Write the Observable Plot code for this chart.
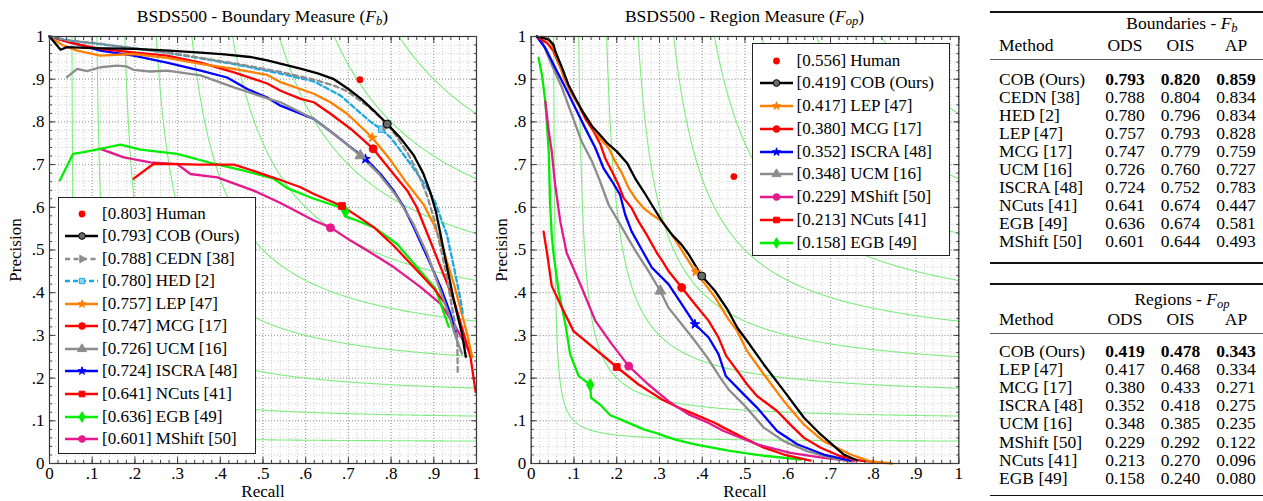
<!DOCTYPE html>
<html><head><meta charset="utf-8">
<script src="https://cdn.jsdelivr.net/npm/d3@7"></script>
<script src="https://cdn.jsdelivr.net/npm/@observablehq/plot@0.6"></script>
<style>
body{margin:0;background:#fff;font-family:"Liberation Serif",serif;color:#000;}
#root{position:relative;width:1263px;height:501px;overflow:hidden;}
.pane{position:absolute;top:0;}
.title{position:absolute;top:5px;font-size:17.5px;white-space:nowrap;transform:translateX(-50%);line-height:22px;}
.legend{position:absolute;border:1.2px solid #222;background:#fff;box-sizing:border-box;font-size:17px;}
.legend .row{position:absolute;left:0;height:20px;line-height:20px;white-space:nowrap;}
.legend svg{position:absolute;left:0;top:0;}
.legend .lab{position:absolute;top:0;}
.t{position:absolute;font-family:"Liberation Serif",serif;font-size:17.5px;height:18px;line-height:18px;white-space:nowrap;}
.c{text-align:center;width:80px;}
.w{text-align:center;width:140px;height:16px;line-height:16px;}
.rule{position:absolute;left:990px;width:273px;background:#000;}
sub{font-size:0.72em;vertical-align:-0.22em;line-height:0;}
</style></head><body><div id="root"></div>
<script>
// ================= DATA =================
const ticksMajor = [0, .1, .2, .3, .4, .5, .6, .7, .8, .9, 1];
const ticksMinor = d3.range(0, 51).map(i => i / 50);
const isoLevels = [.1, .2, .3, .4, .5, .6, .7, .8, .9];

// ---- Boundary measure (Fb) ----
const fbMethods = ["COB (Ours)", "CEDN [38]", "HED [2]", "LEP [47]", "MCG [17]", "UCM [16]", "ISCRA [48]", "NCuts [41]", "EGB [49]", "MShift [50]"];
const fbScores = [0.793, 0.788, 0.780, 0.757, 0.747, 0.726, 0.724, 0.641, 0.636, 0.601];
const fbHuman = [0.727, 0.899];
const fbHumanScore = 0.803;
const fb_COB = [[0,1],[0.026,0.969],[0.041,0.975],[0.1,0.973],[0.2,0.971],[0.28,0.967],[0.354,0.962],[0.41,0.958],[0.47,0.952],[0.51,0.944],[0.55,0.934],[0.59,0.924],[0.63,0.913],[0.666,0.9],[0.7,0.877],[0.73,0.854],[0.76,0.826],[0.791,0.795],[0.822,0.762],[0.853,0.722],[0.875,0.68],[0.892,0.635],[0.905,0.59],[0.916,0.535],[0.93,0.465],[0.947,0.382],[0.966,0.304],[0.975,0.25]];
const fb_CEDN = [[0,1],[0.05,0.99],[0.119,0.983],[0.2,0.972],[0.28,0.962],[0.354,0.95],[0.45,0.934],[0.541,0.917],[0.619,0.899],[0.666,0.885],[0.697,0.872],[0.744,0.838],[0.783,0.803],[0.81,0.77],[0.84,0.725],[0.865,0.675],[0.885,0.625],[0.9,0.575],[0.915,0.51],[0.928,0.45],[0.94,0.382],[0.95,0.325],[0.955,0.288],[0.956,0.21]];
const fb_HED = [[0,1],[0.05,0.99],[0.119,0.982],[0.2,0.972],[0.28,0.961],[0.354,0.949],[0.45,0.932],[0.541,0.913],[0.619,0.895],[0.681,0.862],[0.721,0.827],[0.752,0.8],[0.777,0.783],[0.8,0.762],[0.845,0.702],[0.885,0.645],[0.904,0.61],[0.92,0.565],[0.931,0.535],[0.947,0.46],[0.963,0.382],[0.968,0.35]];
const fb_LEP = [[0,1],[0.03,0.98],[0.065,0.967],[0.119,0.955],[0.197,0.959],[0.275,0.95],[0.354,0.936],[0.432,0.924],[0.51,0.91],[0.541,0.893],[0.619,0.866],[0.658,0.846],[0.697,0.819],[0.756,0.763],[0.799,0.71],[0.838,0.655],[0.877,0.605],[0.9,0.56],[0.916,0.52],[0.947,0.421],[0.978,0.304],[0.99,0.249]];
const fb_MCG = [[0,1],[0.05,0.985],[0.119,0.971],[0.2,0.962],[0.275,0.955],[0.354,0.939],[0.432,0.916],[0.51,0.89],[0.541,0.873],[0.588,0.854],[0.619,0.846],[0.658,0.819],[0.705,0.784],[0.736,0.757],[0.758,0.737],[0.799,0.686],[0.838,0.639],[0.86,0.6],[0.885,0.538],[0.916,0.46],[0.947,0.382],[0.97,0.304],[0.986,0.249],[0.998,0.167]];
const fb_UCM = [[0.041,0.905],[0.065,0.924],[0.088,0.919],[0.119,0.928],[0.158,0.932],[0.18,0.93],[0.197,0.922],[0.236,0.918],[0.275,0.92],[0.354,0.909],[0.432,0.881],[0.51,0.855],[0.541,0.846],[0.619,0.807],[0.681,0.76],[0.728,0.721],[0.77,0.68],[0.81,0.63],[0.85,0.565],[0.885,0.49],[0.91,0.42],[0.935,0.35],[0.95,0.3],[0.966,0.257]];
const fb_ISCRA = [[0,1],[0.119,0.967],[0.197,0.955],[0.275,0.939],[0.354,0.92],[0.416,0.904],[0.463,0.877],[0.51,0.857],[0.541,0.838],[0.619,0.807],[0.666,0.772],[0.705,0.741],[0.74,0.714],[0.775,0.678],[0.806,0.639],[0.83,0.6],[0.853,0.553],[0.885,0.483],[0.916,0.413],[0.939,0.351],[0.955,0.296]];
const fb_NCuts = [[0.197,0.667],[0.244,0.702],[0.3,0.701],[0.35,0.7],[0.432,0.7],[0.47,0.688],[0.51,0.674],[0.541,0.664],[0.588,0.647],[0.619,0.631],[0.685,0.603],[0.72,0.58],[0.76,0.553],[0.806,0.51],[0.853,0.46],[0.9,0.41],[0.93,0.37]];
const fb_EGB = [[0.024,0.663],[0.055,0.725],[0.08,0.729],[0.119,0.737],[0.166,0.747],[0.213,0.735],[0.299,0.725],[0.385,0.702],[0.455,0.686],[0.525,0.667],[0.557,0.645],[0.619,0.62],[0.681,0.6],[0.697,0.577],[0.72,0.569],[0.76,0.553],[0.814,0.514],[0.904,0.409],[0.935,0.32]];
const fb_MShift = [[0.119,0.737],[0.174,0.717],[0.236,0.705],[0.299,0.701],[0.33,0.678],[0.393,0.67],[0.478,0.639],[0.541,0.61],[0.619,0.569],[0.658,0.553],[0.705,0.522],[0.744,0.499],[0.806,0.46],[0.869,0.413],[0.916,0.374],[0.947,0.327],[0.986,0.257]];
const fbCurves = [fb_COB, fb_CEDN, fb_HED, fb_LEP, fb_MCG, fb_UCM, fb_ISCRA, fb_NCuts, fb_EGB, fb_MShift];
const fbODS = [[0.791,0.795],[0.787,0.790],[0.778,0.783],[0.756,0.763],[0.758,0.737],[0.728,0.721],[0.740,0.713],[0.685,0.603],[0.693,0.590],[0.658,0.552]];

// ---- Region measure (Fop) ----
const fopMethods = ["COB (Ours)", "LEP [47]", "MCG [17]", "ISCRA [48]", "UCM [16]", "MShift [50]", "NCuts [41]", "EGB [49]"];
const fopScores = [0.419, 0.417, 0.380, 0.352, 0.348, 0.229, 0.213, 0.158];
const fopHuman = [0.474, 0.672];
const fopHumanScore = 0.556;
const fop_COB = [[0.013,1],[0.041,0.993],[0.052,0.981],[0.056,0.966],[0.072,0.927],[0.087,0.887],[0.103,0.856],[0.122,0.821],[0.142,0.79],[0.157,0.774],[0.177,0.751],[0.2,0.731],[0.224,0.704],[0.243,0.668],[0.263,0.637],[0.282,0.606],[0.306,0.567],[0.329,0.536],[0.352,0.512],[0.368,0.49],[0.399,0.439],[0.43,0.404],[0.46,0.359],[0.482,0.318],[0.505,0.287],[0.544,0.232],[0.591,0.17],[0.638,0.107],[0.677,0.068],[0.731,0.021],[0.762,0.007]];
const fop_LEP = [[0.025,1],[0.044,0.989],[0.052,0.973],[0.064,0.942],[0.076,0.903],[0.095,0.864],[0.118,0.829],[0.138,0.797],[0.157,0.766],[0.181,0.739],[0.196,0.708],[0.212,0.68],[0.228,0.645],[0.243,0.622],[0.263,0.598],[0.282,0.583],[0.306,0.567],[0.329,0.536],[0.356,0.493],[0.383,0.451],[0.43,0.389],[0.461,0.338],[0.482,0.31],[0.505,0.263],[0.544,0.209],[0.591,0.146],[0.638,0.091],[0.684,0.052],[0.747,0.021],[0.793,0.005],[0.844,0]];
const fop_MCG = [[0.017,0.997],[0.037,0.985],[0.052,0.966],[0.072,0.919],[0.091,0.872],[0.111,0.84],[0.126,0.809],[0.146,0.778],[0.162,0.747],[0.173,0.715],[0.189,0.684],[0.204,0.653],[0.216,0.622],[0.235,0.598],[0.251,0.567],[0.27,0.536],[0.294,0.493],[0.306,0.475],[0.321,0.451],[0.352,0.412],[0.383,0.373],[0.415,0.334],[0.438,0.295],[0.456,0.252],[0.482,0.217],[0.505,0.185],[0.528,0.158],[0.575,0.123],[0.606,0.091],[0.638,0.06],[0.677,0.037],[0.723,0.017],[0.77,0.007],[0.817,0.002]];
const fop_ISCRA = [[0.013,1],[0.033,0.973],[0.056,0.927],[0.08,0.88],[0.103,0.833],[0.126,0.786],[0.15,0.739],[0.169,0.692],[0.189,0.661],[0.208,0.629],[0.22,0.582],[0.235,0.543],[0.263,0.493],[0.282,0.459],[0.321,0.42],[0.352,0.373],[0.383,0.326],[0.415,0.295],[0.438,0.256],[0.455,0.205],[0.497,0.162],[0.528,0.131],[0.575,0.076],[0.622,0.045],[0.684,0.021],[0.747,0.007]];
const fop_UCM = [[0.013,1],[0.025,0.989],[0.048,0.934],[0.072,0.88],[0.095,0.817],[0.118,0.754],[0.142,0.708],[0.161,0.661],[0.181,0.606],[0.204,0.567],[0.228,0.525],[0.247,0.493],[0.274,0.451],[0.302,0.404],[0.321,0.365],[0.352,0.326],[0.383,0.287],[0.412,0.248],[0.442,0.201],[0.461,0.174],[0.497,0.138],[0.544,0.084],[0.591,0.052],[0.645,0.029],[0.7,0.013],[0.747,0.005]];
const fop_MShift = [[0.033,0.848],[0.041,0.778],[0.048,0.731],[0.056,0.653],[0.068,0.567],[0.083,0.493],[0.091,0.475],[0.118,0.412],[0.15,0.334],[0.189,0.279],[0.228,0.228],[0.274,0.185],[0.321,0.146],[0.368,0.115],[0.415,0.095],[0.45,0.076],[0.528,0.045],[0.606,0.025],[0.684,0.013],[0.754,0.005]];
const fop_NCuts = [[0.029,0.543],[0.037,0.493],[0.048,0.416],[0.072,0.365],[0.099,0.31],[0.2,0.226],[0.251,0.185],[0.306,0.15],[0.344,0.131],[0.383,0.115],[0.43,0.095],[0.45,0.084],[0.497,0.06],[0.544,0.037],[0.591,0.021],[0.653,0.007]];
const fop_EGB = [[0.017,0.95],[0.025,0.911],[0.033,0.848],[0.041,0.731],[0.044,0.614],[0.048,0.536],[0.052,0.493],[0.064,0.404],[0.08,0.326],[0.091,0.256],[0.111,0.205],[0.138,0.184],[0.14,0.154],[0.161,0.138],[0.185,0.113],[0.228,0.095],[0.263,0.08],[0.29,0.072],[0.337,0.056],[0.383,0.045],[0.461,0.03],[0.528,0.02],[0.63,0.009]];
const fopCurves = [fop_COB, fop_LEP, fop_MCG, fop_ISCRA, fop_UCM, fop_MShift, fop_NCuts, fop_EGB];
const fopODS = [[0.399,0.439],[0.385,0.449],[0.352,0.412],[0.383,0.326],[0.302,0.404],[0.228,0.228],[0.2,0.226],[0.138,0.184]];

// ---- Tables ----
const tabFbMethods = ["COB (Ours)", "CEDN [38]", "HED [2]", "LEP [47]", "MCG [17]", "UCM [16]", "ISCRA [48]", "NCuts [41]", "EGB [49]", "MShift [50]"];
const tabFbODS = ["0.793","0.788","0.780","0.757","0.747","0.726","0.724","0.641","0.636","0.601"];
const tabFbOIS = ["0.820","0.804","0.796","0.793","0.779","0.760","0.752","0.674","0.674","0.644"];
const tabFbAP  = ["0.859","0.834","0.834","0.828","0.759","0.727","0.783","0.447","0.581","0.493"];
const tabFopMethods = ["COB (Ours)", "LEP [47]", "MCG [17]", "ISCRA [48]", "UCM [16]", "MShift [50]", "NCuts [41]", "EGB [49]"];
const tabFopODS = ["0.419","0.417","0.380","0.352","0.348","0.229","0.213","0.158"];
const tabFopOIS = ["0.478","0.468","0.433","0.418","0.385","0.292","0.270","0.240"];
const tabFopAP  = ["0.343","0.334","0.271","0.275","0.235","0.122","0.096","0.080"];

// ================= STYLES =================
const styles = {
  "COB (Ours)": {color: "#000", symbol: "circle", fill: "#6a6a6a", r: 4},
  "CEDN [38]": {color: "#8c8c8c", dash: "5,3.5", symbol: "triangle", rotate: 90, r: 3.4},
  "HED [2]": {color: "#1ba9e6", dash: "5,3", symbol: "square", fill: "#8fd4f3", r: 3.6},
  "LEP [47]": {color: "#ff8000", symbol: "star", r: 3},
  "MCG [17]": {color: "#ff0000", symbol: "circle", r: 4},
  "UCM [16]": {color: "#8c8c8c", symbol: "triangle", r: 4},
  "ISCRA [48]": {color: "#0000ff", symbol: "star", r: 3},
  "NCuts [41]": {color: "#ff0000", symbol: "square", r: 3.8},
  "EGB [49]": {color: "#00ee00", symbol: "diamond", r: 3.8},
  "MShift [50]": {color: "#e6198c", symbol: "circle", r: 4}
};
const d3sym = {circle: d3.symbolCircle, triangle: d3.symbolTriangle, square: d3.symbolSquare, diamond: d3.symbolDiamond, star: d3.symbolStar, cross: d3.symbolCross};
const isoRows = isoLevels.flatMap(f => {
  const r0 = f / (2 - f);
  return d3.range(0, 301).map(i => { const r = r0 + (1 - r0) * Math.pow(i / 300, 1.6); return {f, r, p: f * r / (2 * r - f)}; });
});
const fmt = d => d === 0 ? "0" : d === 1 ? "1" : d.toFixed(1).slice(1);

function prChart(methods, curves, ods, human, o) {
  const marks = [
    Plot.gridX(ticksMinor, {stroke: "#cfcfcf", strokeOpacity: 1, strokeDasharray: "1,2"}),
    Plot.gridY(ticksMinor, {stroke: "#cfcfcf", strokeOpacity: 1, strokeDasharray: "1,2"}),
    Plot.gridX(ticksMajor, {stroke: "#9a9a9a", strokeOpacity: 1, strokeDasharray: "1,2"}),
    Plot.gridY(ticksMajor, {stroke: "#9a9a9a", strokeOpacity: 1, strokeDasharray: "1,2"}),
    Plot.line(isoRows, {x: "r", y: "p", z: "f", stroke: "#7eec7e", strokeWidth: 1.1})
  ];
  for (let i = methods.length - 1; i >= 0; i--) {
    const s = styles[methods[i]];
    marks.push(Plot.line(curves[i], {x: d => d[0], y: d => d[1], stroke: s.color, strokeWidth: 2.3, strokeDasharray: s.dash, strokeLinejoin: "round"}));
  }
  for (let i = methods.length - 1; i >= 0; i--) {
    const s = styles[methods[i]];
    marks.push(Plot.dot([ods[i]], {x: d => d[0], y: d => d[1], symbol: s.symbol, r: s.r, fill: s.fill || s.color, stroke: s.color, strokeWidth: 1, rotate: s.rotate || 0}));
  }
  marks.push(Plot.dot([human], {x: d => d[0], y: d => d[1], r: 3.4, fill: "#ff0000", stroke: "none"}));
  marks.push(Plot.frame({stroke: "#333", strokeWidth: 1.2}));
  for (const anchor of ["bottom", "top"]) {
    marks.push(Plot.axisX(ticksMinor, {anchor, tickSize: -3, fill: "none", label: null, stroke: "#444"}));
    marks.push(Plot.axisX(ticksMajor, {anchor, tickSize: -6, fill: "none", label: null, stroke: "#444"}));
  }
  for (const anchor of ["left", "right"]) {
    marks.push(Plot.axisY(ticksMinor, {anchor, tickSize: -3, fill: "none", label: null, stroke: "#444"}));
    marks.push(Plot.axisY(ticksMajor, {anchor, tickSize: -6, fill: "none", label: null, stroke: "#444"}));
  }
  marks.push(Plot.axisX(ticksMajor, {anchor: "bottom", tickSize: 0, tickPadding: 3, tickFormat: fmt, label: "Recall", labelAnchor: "center", labelArrow: "none", labelOffset: 33.5, fill: "#000"}));
  marks.push(Plot.axisY(ticksMajor, {anchor: "left", tickSize: 0, tickPadding: 5, tickFormat: fmt, label: "Precision", labelAnchor: "center", labelArrow: "none", labelOffset: o.yLabelOffset, fill: "#000"}));
  const svg = Plot.plot({
    width: o.width, height: 501, marginTop: 36, marginBottom: 38, marginLeft: o.marginLeft, marginRight: o.marginRight,
    x: {domain: [0, 1]}, y: {domain: [0, 1]},
    style: {fontFamily: "Liberation Serif", fontSize: "17px", background: "transparent", color: "#000", overflow: "hidden"},
    marks
  });
  svg.classList.add("pane");
  svg.style.left = o.left + "px";
  return svg;
}

const root = document.getElementById("root");
root.appendChild(prChart(fbMethods, fbCurves, fbODS, fbHuman, {width: 490, marginLeft: 49, marginRight: 14, left: 0, yLabelOffset: 41}));
root.appendChild(prChart(fopMethods, fopCurves, fopODS, fopHuman, {width: 480, marginLeft: 40.7, marginRight: 11.7, left: 490, yLabelOffset: 36.5}));

function addTitle(html, cx) {
  const d = document.createElement("div");
  d.className = "title"; d.style.left = cx + "px"; d.innerHTML = html;
  root.appendChild(d);
}
addTitle("BSDS500 - Boundary Measure (<i>F</i><sub><i>b</i></sub>)", 262.5);
addTitle("BSDS500 - Region Measure (<i>F</i><sub><i>op</i></sub>)", 744.5);

function addLegend(methods, scores, humanScore, g) {
  const box = document.createElement("div");
  box.className = "legend";
  Object.assign(box.style, {left: g.left + "px", top: g.top + "px", width: g.width + "px", height: g.height + "px"});
  const entries = [{label: `[${humanScore.toFixed(3)}] Human`, human: true}]
    .concat(methods.map((m, i) => ({label: `[${scores[i].toFixed(3)}] ${m}`, s: styles[m]})));
  entries.forEach((e, i) => {
    const row = document.createElement("div");
    row.className = "row";
    row.style.top = (g.y0 + g.step * i - 10) + "px";
    row.style.width = "100%";
    const svg = d3.create("svg").attr("width", 44).attr("height", 20);
    if (e.human) {
      svg.append("circle").attr("cx", g.mx).attr("cy", 10).attr("r", 3.4).attr("fill", "#ff0000");
    } else {
      const s = e.s;
      svg.append("line").attr("x1", g.lx1).attr("x2", g.lx2).attr("y1", 10).attr("y2", 10)
        .attr("stroke", s.color).attr("stroke-width", 2.3).attr("stroke-dasharray", s.dash || null);
      svg.append("path").attr("d", d3.symbol(d3sym[s.symbol], Math.PI * s.r * s.r * 0.7)())
        .attr("transform", `translate(${g.mx},10) rotate(${s.rotate || 0})`)
        .attr("fill", s.fill || s.color).attr("stroke", s.color).attr("stroke-width", 1);
    }
    row.appendChild(svg.node());
    const lab = document.createElement("span");
    lab.className = "lab"; lab.style.left = g.tx + "px"; lab.textContent = e.label;
    row.appendChild(lab);
    box.appendChild(row);
  });
  root.appendChild(box);
}
addLegend(fbMethods, fbScores, fbHumanScore, {left: 58, top: 197, width: 198, height: 257, y0: 15.5, step: 22.56, lx1: 6, lx2: 39, mx: 23, tx: 43});
addLegend(fopMethods, fopScores, fopHumanScore, {left: 751.5, top: 43, width: 198, height: 213, y0: 16.5, step: 22.75, lx1: 7, lx2: 40, mx: 23.5, tx: 44});

function txt(html, x, cy, cls, bold) {
  const d = document.createElement("div");
  d.className = "t" + (cls ? " " + cls : "");
  const w = cls === "w" ? 140 : cls === "c" ? 80 : 0;
  const h = cls === "w" ? 16 : 18;
  d.style.left = (x - w / 2) + "px";
  d.style.top = (cy - h / 2) + "px";
  if (bold) d.style.fontWeight = "bold";
  d.innerHTML = html;
  root.appendChild(d);
}
function rule(y, h, color) {
  const d = document.createElement("div");
  d.className = "rule"; d.style.top = (y - h / 2) + "px"; d.style.height = h + "px"; d.style.background = color;
  root.appendChild(d);
}
const colX = [999, 1125, 1180.5, 1236];
function addTable(g, headerHTML, methods, ods, ois, ap) {
  rule(g.top, 1.8, "#111");
  txt(headerHTML, 1182, g.h1, "w");
  txt("Method", colX[0], g.h2, "");
  txt("ODS", colX[1], g.h2, "c");
  txt("OIS", colX[2], g.h2, "c");
  txt("AP", colX[3], g.h2, "c");
  rule(g.mid, 1, "#555");
  methods.forEach((m, i) => {
    const y = g.r0 + g.step * i;
    txt(m, colX[0], y, "");
    txt(ods[i], colX[1], y, "c", i === 0);
    txt(ois[i], colX[2], y, "c", i === 0);
    txt(ap[i], colX[3], y, "c", i === 0);
  });
  rule(g.bottom, 1.8, "#111");
}
addTable({top: 12.3, h1: 22.5, h2: 44.5, mid: 59, r0: 78.5, step: 18.1, bottom: 263}, "Boundaries - <i>F</i><sub><i>b</i></sub>", tabFbMethods, tabFbODS, tabFbOIS, tabFbAP);
addTable({top: 284, h1: 298.5, h2: 318.5, mid: 333, r0: 350.5, step: 18.2, bottom: 495.5}, "Regions - <i>F</i><sub><i>op</i></sub>", tabFopMethods, tabFopODS, tabFopOIS, tabFopAP);
</script></body></html>
